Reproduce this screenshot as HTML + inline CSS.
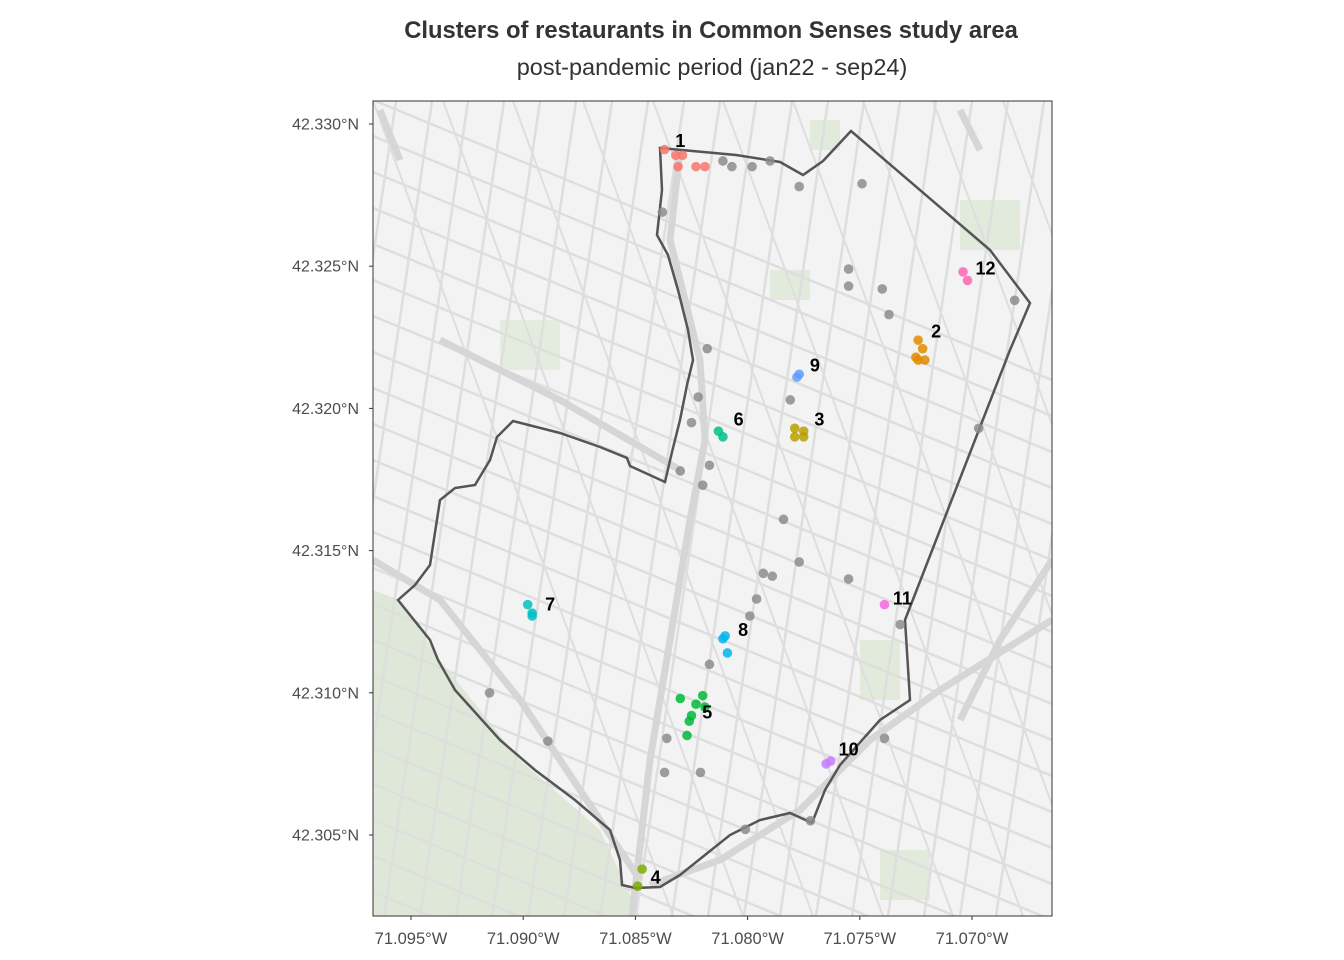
<!DOCTYPE html>
<html><head><meta charset="utf-8"><style>
html,body{margin:0;background:#fff;width:1344px;height:960px;overflow:hidden;font-family:"Liberation Sans",sans-serif}
svg{position:absolute;left:0;top:0;overflow:hidden}
</style></head><body>
<svg id="chart" width="1344" height="960">
<defs><clipPath id="pc"><rect x="373" y="101" width="679" height="815"/></clipPath></defs>
<text x="711" y="38" text-anchor="middle" font-size="23.8" font-weight="bold" fill="#333">Clusters of restaurants in Common Senses study area</text>
<text x="712" y="75" text-anchor="middle" font-size="23.5" fill="#333">post-pandemic period (jan22 - sep24)</text>
<g clip-path="url(#pc)" id="basemap">
<rect x="373" y="101" width="679" height="815" fill="#f3f3f3"/>
<path d="M373,590 L400,600 L440,660 L520,760 L600,830 L640,916 L373,916 Z" fill="#dfe8d8"/>
<rect x="770" y="270" width="40" height="30" fill="#e1eadb"/><rect x="860" y="640" width="40" height="60" fill="#e1eadb"/><rect x="960" y="200" width="60" height="50" fill="#e1eadb"/><rect x="500" y="320" width="60" height="50" fill="#e4ecdf"/><rect x="880" y="850" width="50" height="50" fill="#e1eadb"/><rect x="810" y="120" width="30" height="30" fill="#e1eadb"/>
<g id="streets" stroke="#dedede" stroke-width="2.5" fill="none"></g>
<g stroke="#d6d6d6" stroke-width="7" fill="none">
<path d="M680,150 L670,240 L700,360 L705,440 L690,520 L670,640 L650,760 L632,916"/>
<path d="M373,560 L440,600 L520,700 L600,820 L640,880"/>
<path d="M650,885 L720,860 L800,810 L870,740 L940,690 L1052,620"/>
<path d="M380,110 L400,160"/>
<path d="M960,110 L980,150"/>
<path d="M440,340 L560,400 L680,470"/>
<path d="M1052,560 L1000,640 L960,720"/>
</g>
</g>
<path id="boundary" fill="none" stroke="#555" stroke-width="2.5" d="M660,148 L736,155 L780,162 L803,175 L823,161 L851,131 L990,250 L1030,303 L1010,350 L975,440 L940,530 L905,620 L910,700 L880,720 L840,765 L825,790 L812,823 L790,813 L760,820 L730,835 L705,855 L680,875 L660,887 L635,888 L622,885 L620,860 L610,830 L575,800 L535,770 L500,740 L455,690 L438,660 L430,640 L398,600 L415,585 L430,565 L440,500 L455,488 L475,485 L490,460 L497,437 L513,421 L560,433 L600,447 L627,458 L630,466 L665,482 L672,452 L680,420 L687,385 L693,360 L688,330 L678,290 L668,255 L657,235 L662,190 Z"/>
<g id="points"></g>
<g id="labels"></g>
<rect x="373" y="101" width="679" height="815" fill="none" stroke="#333" stroke-width="1"/>
<g id="axes"></g>
</svg>
<script>
const lonTicks=[-71.095,-71.090,-71.085,-71.080,-71.075,-71.070];
const latTicks=[42.330,42.325,42.320,42.315,42.310,42.305];
const otherLon=[-71.0811,-71.0807,-71.0798,-71.0790,-71.0777,-71.0749,-71.0838,-71.0755,-71.0755,-71.0740,-71.0737,-71.0681,-71.0818,-71.0781,-71.0822,-71.0825,-71.0817,-71.0830,-71.0820,-71.0784,-71.0777,-71.0793,-71.0789,-71.0755,-71.0796,-71.0799,-71.0732,-71.0817,-71.0915,-71.0836,-71.0739,-71.0889,-71.0837,-71.0821,-71.0772,-71.0801,-71.0697];
const otherLat=[42.3287,42.3285,42.3285,42.3287,42.3278,42.3279,42.3269,42.3249,42.3243,42.3242,42.3233,42.3238,42.3221,42.3203,42.3204,42.3195,42.3180,42.3178,42.3173,42.3161,42.3146,42.3142,42.3141,42.3140,42.3133,42.3127,42.3124,42.3110,42.3100,42.3084,42.3084,42.3083,42.3072,42.3072,42.3055,42.3052,42.3193];
const clusterIds=[1,1,1,1,1,1,2,2,2,2,2,3,3,3,3,4,4,5,5,5,5,5,5,5,6,6,7,7,7,8,8,8,9,9,10,10,11,12,12];
const clusterLon=[-71.0837,-71.0832,-71.0829,-71.0831,-71.0823,-71.0819,-71.0724,-71.0722,-71.0725,-71.0724,-71.0721,-71.0779,-71.0775,-71.0779,-71.0775,-71.0847,-71.0849,-71.0830,-71.0820,-71.0823,-71.0819,-71.0825,-71.0826,-71.0827,-71.0813,-71.0811,-71.0898,-71.0896,-71.0896,-71.0811,-71.0810,-71.0809,-71.0777,-71.0778,-71.0763,-71.0765,-71.0739,-71.0704,-71.0702];
const clusterLat=[42.3291,42.3289,42.3289,42.3285,42.3285,42.3285,42.3224,42.3221,42.3218,42.3217,42.3217,42.3193,42.3192,42.3190,42.3190,42.3038,42.3032,42.3098,42.3099,42.3096,42.3095,42.3092,42.3090,42.3085,42.3192,42.3190,42.3131,42.3128,42.3127,42.3119,42.3120,42.3114,42.3212,42.3211,42.3076,42.3075,42.3131,42.3248,42.3245];
const labelLon=[-71.0830,-71.0716,-71.0768,-71.0841,-71.0818,-71.0804,-71.0888,-71.0802,-71.0770,-71.0755,-71.0731,-71.0694];
const labelLat=[42.3292,42.3225,42.3194,42.3033,42.3091,42.3194,42.3129,42.3120,42.3213,42.3078,42.3131,42.3247];
const palette=["#F8766D","#DE8C00","#B79F00","#7CAE00","#00BA38","#00C08B","#00BFC4","#00B4F0","#619CFF","#C77CFF","#F564E3","#FF64B0"];
const X=lon=>411+(lon+71.095)/0.005*112.2;
const Y=lat=>124+(42.330-lat)/0.005*142.2;
const NS="http://www.w3.org/2000/svg";
function mk(tag,attrs,parent){const e=document.createElementNS(NS,tag);for(const k in attrs)e.setAttribute(k,attrs[k]);parent.appendChild(e);return e;}
const st=document.getElementById('streets');
for(let i=0;i<26;i++){mk('line',{x1:373,y1:100+i*36,x2:1052,y2:100+i*36+280},st);}
for(let i=0;i<22;i++){mk('line',{x1:360+i*36,y1:101,x2:360+i*36-120,y2:916},st);}
for(let i=0;i<12;i++){const l=mk('line',{x1:373+i*70,y1:101,x2:373+i*70+300,y2:916},st);l.setAttribute('stroke-width','2');}
const pts=document.getElementById('points');
otherLon.forEach((lon,i)=>{const c=mk('circle',{cx:X(lon),cy:Y(otherLat[i]),r:4.8,fill:'#8c8c8c','fill-opacity':0.85},pts);

});
clusterLon.forEach((lon,i)=>{const c=mk('circle',{cx:X(lon),cy:Y(clusterLat[i]),r:4.8,fill:palette[clusterIds[i]-1],'fill-opacity':0.85},pts);

});
const lb=document.getElementById('labels');
labelLon.forEach((lon,i)=>{const t=mk('text',{x:X(lon),y:Y(labelLat[i]),'text-anchor':'middle','font-size':18,'font-weight':'bold',fill:'#000'},lb);t.textContent=String(i+1);

});
const ax=document.getElementById('axes');
lonTicks.forEach(v=>{const x=X(v);mk('line',{x1:x,y1:916,x2:x,y2:920,stroke:'#333'},ax);
const t=mk('text',{x:x,y:944,'text-anchor':'middle','font-size':16.5,fill:'#4d4d4d'},ax);t.textContent=Math.abs(v).toFixed(3)+'°W';

});
latTicks.forEach(v=>{const y=Y(v);mk('line',{x1:369,y1:y,x2:373,y2:y,stroke:'#333'},ax);
const t=mk('text',{x:359,y:y+5.5,'text-anchor':'end','font-size':16,fill:'#4d4d4d'},ax);t.textContent=v.toFixed(3)+'°N';

});
</script>
</body></html>
